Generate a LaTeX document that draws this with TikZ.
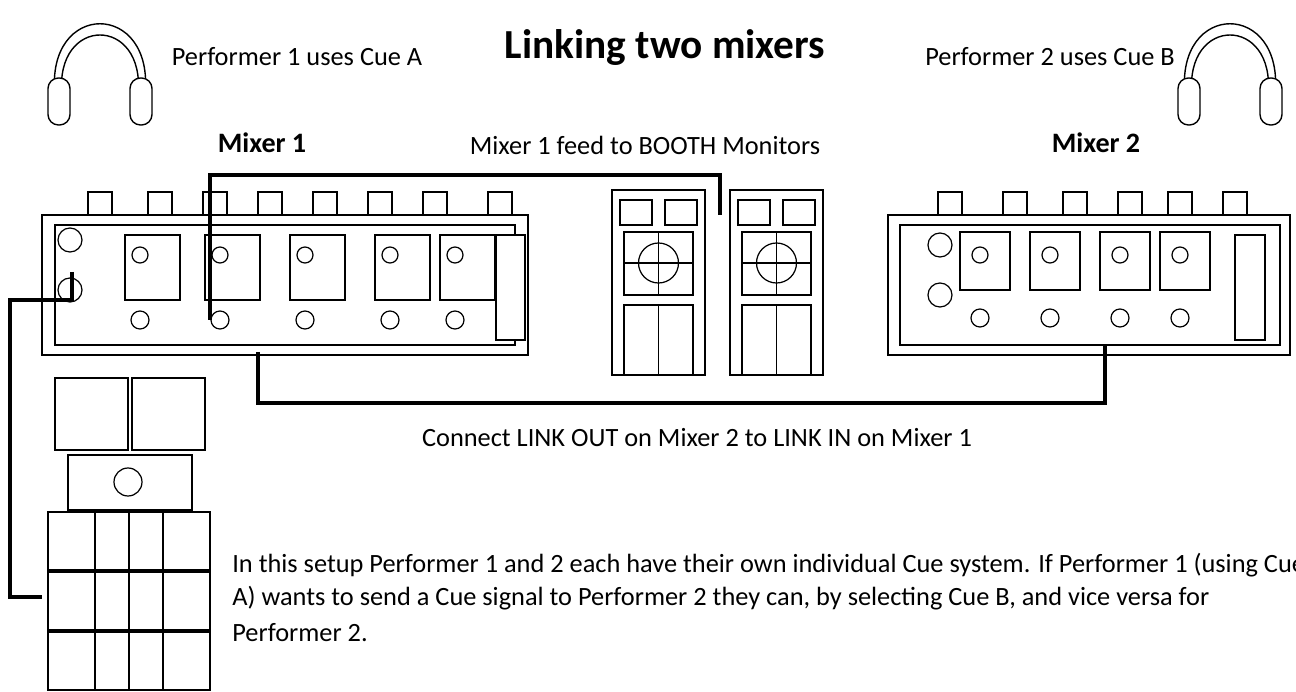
\documentclass[tikz,border=0pt]{standalone}
\usepackage{fontspec}
\setmainfont{Carlito}
\begin{document}
\begin{tikzpicture}[x=0.02cm,y=-0.02cm]
  \tikzset{Txt/.style = {font=\fontsize{15}{18}\selectfont, inner sep=0pt},
           Bold/.style = {font=\bfseries\fontsize{16}{18}\selectfont, inner sep=0pt},
           Cable/.style = {line width=2.2pt, black},
           Box/.style = {draw, line width=0.8pt, fill=white},
           Knob/.style = {draw, line width=0.7pt, fill=white}}
  \newcommand{\phones}[1]{%
    \begin{scope}[shift={(#1,0)}]
      \draw[line width=0.8pt] (-45,95) .. controls (-55,0) and (55,0) .. (45,95);
      \draw[line width=0.8pt] (-38,95) .. controls (-46,15) and (46,15) .. (38,95);
      \draw[Box,rounded corners=6pt] (-52,78) rectangle (-30,125);
      \draw[Box,rounded corners=6pt] (30,78) rectangle (52,125);
    \end{scope}}
  \newcommand{\booth}[1]{%
    \begin{scope}[shift={(#1,0)}]
      \draw[Box] (0,190) rectangle (93,375);
      \draw[Box] (8,200) rectangle (40,225);
      \draw[Box] (53,200) rectangle (85,225);
      \draw[Box] (12,232) rectangle (81,295);
      \draw[line width=0.7pt] (46.5,263) circle (20);
      \draw[line width=0.7pt] (46.5,232) -- (46.5,295) (12,263) -- (81,263);
      \draw[line width=0.7pt] (12,305) rectangle (81,375) (46.5,305) -- (46.5,375);
    \end{scope}}
  \useasboundingbox (0,0) rectangle (1296,692);
  \clip (0,0) rectangle (1296,692);
  % headphones and titles
  \phones{100}
  \phones{1230}
  \node[font=\bfseries\fontsize{23.5}{28}\selectfont] (title) at (665,48) {Linking two mixers};
  \node[Txt] (perf1) at (297,57) {Performer 1 uses Cue A};
  \node[Txt] (perf2) at (1050,57) {Performer 2 uses Cue B};
  \node[Bold] (mix1) at (262,143) {Mixer 1};
  \node[Bold] (mix2) at (1096,143) {Mixer 2};
  \node[Txt] (feed) at (645,145) {Mixer 1 feed to BOOTH Monitors};
  % mixer 1
  \foreach \x in {100,160,215,270,325,380,435,500}
    \draw[Knob] (\x-12,192) rectangle (\x+12,216);
  \draw[Box] (42,215) rectangle (528,355);
  \draw[line width=0.6pt] (55,225) rectangle (515,345);
  \foreach \x in {125,205,290,375,440} {
    \draw[Knob] (\x,235) rectangle (\x+55,300);
    \draw[Knob] (\x+15,255) circle (8);
    \draw[Knob] (\x+15,320) circle (9);
  }
  \draw[Knob] (70,240) circle (12) (70,290) circle (12);
  \draw[Knob] (496,235) rectangle (525,340);
  % mixer 2
  \foreach \x in {950,1015,1075,1130,1180,1235}
    \draw[Knob] (\x-12,192) rectangle (\x+12,216);
  \draw[Box] (888,215) rectangle (1290,355);
  \draw[line width=0.6pt] (900,225) rectangle (1280,345);
  \foreach \x in {960,1030,1100,1160} {
    \draw[Knob] (\x,232) rectangle (\x+50,290);
    \draw[Knob] (\x+20,255) circle (8);
    \draw[Knob] (\x+20,318) circle (9);
  }
  \draw[Knob] (940,245) circle (12) (940,295) circle (12);
  \draw[Knob] (1235,235) rectangle (1265,340);
  % booth monitors
  \booth{612}
  \booth{730}
  % PA stack
  \draw[Box] (55,378) rectangle (128,450);
  \draw[Box] (132,378) rectangle (205,450);
  \draw[Box] (68,455) rectangle (192,510);
  \draw[line width=0.7pt] (128,482) circle (14);
  \foreach \y in {512,572,632} {
    \draw[Box] (48,\y) rectangle (210,\y+58);
    \draw[line width=0.6pt] (95,\y) -- (95,\y+58) (163,\y) -- (163,\y+58) (129,\y) -- (129,\y+58);
  }
  % cables
  \coordinate (boothA) at (210,320);
  \coordinate (boothB) at (720,215);
  \draw[Cable] (boothA) -- (210,175) -| (boothB);
  \coordinate (linkA) at (258,352);
  \coordinate (linkB) at (1105,345);
  \draw[Cable] (linkA) -- (258,403) -| (linkB);
  \coordinate (mainA) at (72,272);
  \coordinate (mainB) at (42,597);
  \draw[Cable] (mainA) -- (72,300) -- (10,300) |- (mainB);
  % texts
  \node[Txt] (conn) at (697,438) {Connect LINK OUT on Mixer 2 to LINK IN on Mixer 1};
  \node[Txt,anchor=west] (para1) at (232,565) {In this setup Performer 1 and 2 each have their own individual Cue system. If Performer 1 (using Cue};
  \node[Txt,anchor=west] (para2) at (232,598) {A) wants to send a Cue signal to Performer 2 they can, by selecting Cue B, and vice versa for};
  \node[Txt,anchor=west] (para3) at (232,633) {Performer 2.};
\end{tikzpicture}
\end{document}
